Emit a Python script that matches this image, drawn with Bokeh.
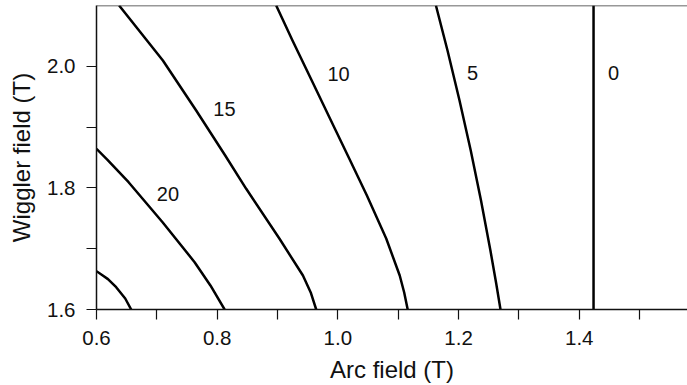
from bokeh.plotting import figure
from bokeh.models import Range1d, FixedTicker, NumeralTickFormatter, Span, ColumnDataSource
from bokeh.embed import file_html
from bokeh.resources import INLINE
from bokeh.core.properties import value

# ---- data ----
arc_25 = [0.600, 0.6086, 0.619, 0.6326, 0.6476, 0.6575]
wig_25 = [1.663, 1.6572, 1.650, 1.6367, 1.6181, 1.600]

arc_20 = [0.600, 0.6182, 0.6532, 0.7095, 0.7626, 0.7888, 0.8123]
wig_20 = [1.8643, 1.8462, 1.8094, 1.7436, 1.6778, 1.6395, 1.600]

arc_15 = [0.6375, 0.710, 0.7652, 0.8133, 0.8481, 0.9033, 0.9421, 0.955, 0.9641]
wig_15 = [2.100, 2.0095, 1.9273, 1.8533, 1.7985, 1.7163, 1.6559, 1.628, 1.600]

arc_10 = [0.8978, 0.9248, 0.9591, 0.9885, 1.0188, 1.0481, 1.0801, 1.1025, 1.1099, 1.1157]
wig_10 = [2.100, 2.0424, 1.9717, 1.9109, 1.8484, 1.7875, 1.7168, 1.6559, 1.628, 1.600]

arc_5 = [1.1625, 1.1817, 1.2016, 1.2202, 1.2372, 1.2528, 1.2624, 1.2695]
wig_5 = [2.100, 2.026, 1.9438, 1.8615, 1.7793, 1.697, 1.6428, 1.600]

arc_0 = [1.4237, 1.4237]
wig_0 = [1.600, 2.100]

label_text = ["20", "15", "10", "5", "0"]
label_arc = [0.7183, 0.812, 1.0011, 1.2231, 1.4568]
label_wig = [1.7903, 1.930, 1.9877, 1.9887, 1.9887]

x_major = [0.6, 0.8, 1.0, 1.2, 1.4]
x_minor = [0.7, 0.9, 1.1, 1.3, 1.5]
y_major = [1.6, 1.8, 2.0]
y_minor = [1.7, 1.9]

FONT = "Liberation Sans"

p = figure(width=687, height=385, output_backend="svg", toolbar_location=None,
           x_range=Range1d(0.6, 1.5794), y_range=Range1d(1.6, 2.1),
           min_border_left=96, min_border_right=0, min_border_top=5, min_border_bottom=76)
p.grid.visible = False
p.outline_line_color = None
p.background_fill_color = "white"
p.border_fill_color = "white"

p.add_layout(Span(location=2.1, dimension="width", line_color="#333333", line_width=1.5))

p.multi_line(xs=[arc_25, arc_20, arc_15, arc_10, arc_5, arc_0],
             ys=[wig_25, wig_20, wig_15, wig_10, wig_5, wig_0],
             line_color="black", line_width=2.5, line_join="round")

src = ColumnDataSource(dict(x=label_arc, y=label_wig, t=label_text))
p.text(x="x", y="y", text="t", source=src, text_font=value(FONT), text_font_size="20px",
       text_align="center", text_baseline="middle", text_color="#111111")

for ax, maj, mnr in ((p.xaxis[0], x_major, x_minor), (p.yaxis[0], y_major, y_minor)):
    ax.ticker = FixedTicker(ticks=maj, minor_ticks=mnr)
    ax.formatter = NumeralTickFormatter(format="0.0")
    ax.axis_line_color = "#111111"
    ax.axis_line_width = 1.5
    ax.major_tick_line_color = "#111111"
    ax.minor_tick_line_color = "#111111"
    ax.major_tick_line_width = 1.2
    ax.minor_tick_line_width = 1.2
    ax.major_tick_in = 0
    ax.major_tick_out = 10
    ax.minor_tick_in = 0
    ax.minor_tick_out = 10
    ax.major_label_text_font = FONT
    ax.major_label_text_font_size = "20.5px"
    ax.major_label_text_color = "#111111"
    ax.axis_label_text_font = FONT
    ax.axis_label_text_font_size = "24px"
    ax.axis_label_text_font_style = "normal"
    ax.axis_label_text_color = "#111111"

p.xaxis.axis_label = "Arc field (T)"
p.yaxis.axis_label = "Wiggler field (T)"
p.xaxis.major_label_standoff = 11
p.xaxis.axis_label_standoff = 8
p.yaxis.major_label_standoff = 11
p.yaxis.axis_label_standoff = 9

open("out.html", "w").write(file_html(p, INLINE))
